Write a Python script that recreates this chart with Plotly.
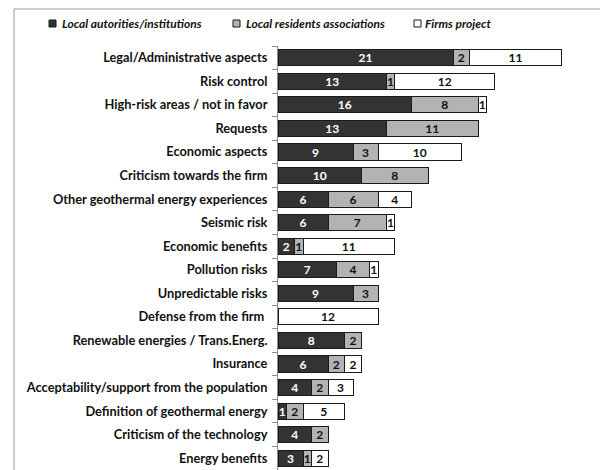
import plotly.graph_objects as go

categories = [
    "Legal/Administrative aspects",
    "Risk control",
    "High-risk areas / not in favor",
    "Requests",
    "Economic aspects",
    "Criticism towards the firm",
    "Other geothermal energy experiences",
    "Seismic risk",
    "Economic benefits",
    "Pollution risks",
    "Unpredictable risks",
    "Defense from the firm ",
    "Renewable energies / Trans.Energ.",
    "Insurance",
    "Acceptability/support from the population",
    "Definition of geothermal energy",
    "Criticism of the technology",
    "Energy benefits",
]
local_authorities = [21, 13, 16, 13, 9, 10, 6, 6, 2, 7, 9, 0, 8, 6, 4, 1, 4, 3]
residents_assoc = [2, 1, 8, 11, 3, 8, 6, 7, 1, 4, 3, 0, 2, 2, 2, 2, 2, 1]
firms_project = [11, 12, 1, 0, 10, 0, 4, 1, 11, 1, 0, 12, 0, 2, 3, 5, 0, 2]

series_names = ["Local autorities/institutions", "Local residents associations", "Firms project"]
series_values = [local_authorities, residents_assoc, firms_project]
fill_colors = ["#333333", "#b3b3b3", "#ffffff"]
text_colors = ["#ffffff", "#111111", "#111111"]

FONT = "Lato"
# page body adds an 8px margin, so the figure is drawn 8px smaller / shifted
W, H = 600, 462
ml, mr, mt, mb = 270, 30, 38, 0
pw = W - ml - mr
ph = H - mt - mb


def px_x(px):
    return (px - ml) / pw


def px_y(py):
    return 1 - (py - mt) / ph


fig = go.Figure()
for name, vals, fc, tc in zip(series_names, series_values, fill_colors, text_colors):
    fig.add_trace(go.Bar(
        y=categories, x=vals, name=name, orientation="h",
        marker=dict(color=fc, line=dict(color="#1a1a1a", width=1)),
        text=[str(v) if v else "" for v in vals],
        textposition="inside", insidetextanchor="middle", textangle=0,
        insidetextfont=dict(family=FONT, size=12, color=tc, weight="bold"),
        cliponaxis=False, showlegend=False,
    ))

# frame around the chart
fig.add_shape(type="rect", xref="paper", yref="paper",
              x0=px_x(6), x1=px_x(W + 20), y0=px_y(H + 30), y1=px_y(1),
              line=dict(color="#9a9a9a", width=1), fillcolor="rgba(0,0,0,0)", layer="below")

# legend (drawn manually to match the original spacing)
legend_sq_x = [41, 225, 406]
legend_txt_x = [52, 236, 415]
for name, fc, sx, tx in zip(series_names, fill_colors, legend_sq_x, legend_txt_x):
    fig.add_shape(type="rect", xref="paper", yref="paper",
                  x0=px_x(sx), x1=px_x(sx + 7), y0=px_y(19), y1=px_y(12),
                  line=dict(color="#1a1a1a", width=1), fillcolor=fc)
    fig.add_annotation(xref="paper", yref="paper", x=px_x(tx), y=px_y(15.5),
                       xanchor="left", yanchor="middle", showarrow=False, text=name,
                       font=dict(family=FONT, size=12, style="italic", weight="bold", color="#111111"))

fig.update_layout(
    width=W, height=H, barmode="stack", bargap=0.32,
    margin=dict(l=ml, r=mr, t=mt, b=mb, pad=0),
    paper_bgcolor="white", plot_bgcolor="white",
    font=dict(family=FONT, size=12, color="#111111"),
    uniformtext=dict(minsize=12, mode="show"),
    showlegend=False,
    xaxis=dict(range=[0, 36], visible=False, fixedrange=True),
    yaxis=dict(autorange="reversed", type="category", tickson="boundaries",
               ticks="outside", ticklen=5, tickcolor="#8c8c8c",
               showline=True, linecolor="#8c8c8c", linewidth=1, showgrid=False,
               ticklabelstandoff=7,
               tickfont=dict(family=FONT, size=12.8, weight="bold", color="#111111")),
)

fig.write_html("out.html")
